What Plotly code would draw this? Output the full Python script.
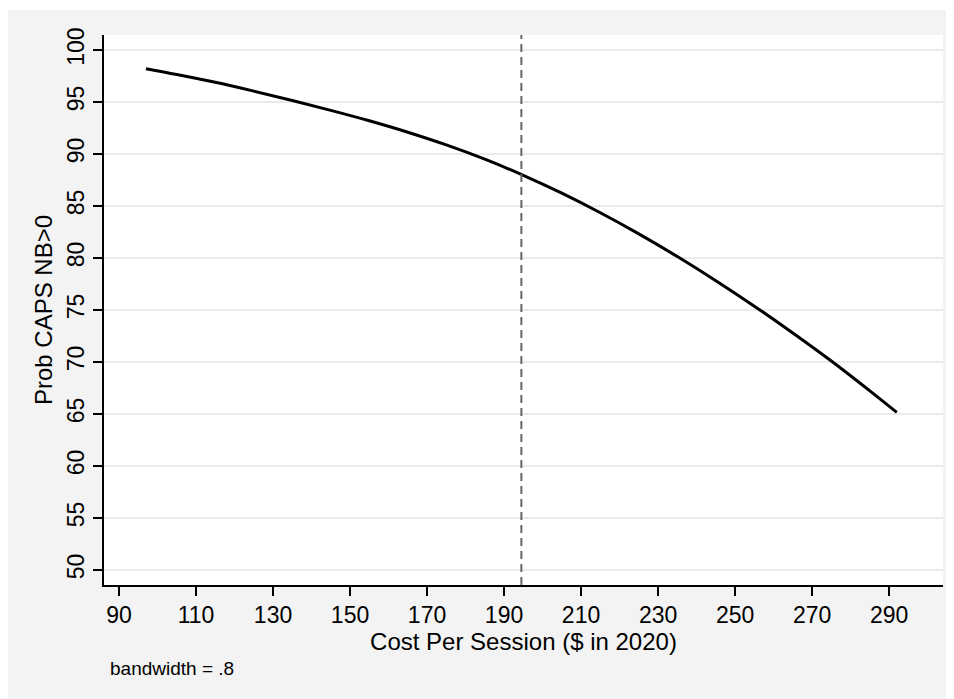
import plotly.graph_objects as go

cost = [97, 105, 115, 125, 135, 145, 155, 165, 175, 185, 195, 205, 215, 225, 235, 245, 255, 265, 275, 285, 292]
prob = [98.2, 97.64, 96.89, 96.04, 95.14, 94.19, 93.19, 92.09, 90.87, 89.5, 87.95, 86.23, 84.35, 82.32, 80.14, 77.82, 75.37, 72.79, 70.09, 67.22, 65.15]
xticks = list(range(90, 291, 20))
yticks = list(range(50, 101, 5))
ref_cost = 194.5

W, H = 954, 699
ml, mr, mt, mb = 96, 19, 27, 122
pw, ph = W - ml - mr, H - mt - mb
FONT = "Liberation Sans, Arial, sans-serif"

fig = go.Figure()
fig.add_trace(go.Scatter(x=cost, y=prob, mode="lines", line=dict(color="black", width=3, shape="spline"),
                         showlegend=False, hoverinfo="skip"))

shapes = [
    dict(type="line", xref="x", yref="paper", x0=ref_cost, x1=ref_cost, y0=0, y1=1,
         line=dict(color="#666666", width=2, dash="8px,5px")),
    dict(type="rect", xref="paper", yref="paper", x0=-ml / pw, x1=1 + mr / pw,
         y0=1 + (mt - 2) / ph, y1=1 + mt / ph, fillcolor="white", line=dict(width=0), layer="below"),
]

fig.update_layout(
    width=W, height=H,
    margin=dict(l=ml, r=mr, t=mt, b=mb),
    paper_bgcolor="#F3F3F3", plot_bgcolor="white",
    font=dict(family=FONT, color="black", size=23),
    shapes=shapes,
    xaxis=dict(range=[86.1, 304.0], tickvals=xticks, ticktext=[str(v) for v in xticks],
               showgrid=False, zeroline=False, showline=True, linecolor="black", linewidth=1.5,
               ticks="outside", ticklen=9, tickwidth=1.5, tickcolor="black",
               tickfont=dict(size=23),
               title=dict(text="Cost Per Session ($ in 2020)", font=dict(size=24), standoff=0)),
    yaxis=dict(range=[48.56, 101.44], tickvals=yticks, ticktext=[str(v) for v in yticks],
               showgrid=True, gridcolor="#EAEAEA", gridwidth=1.5, zeroline=False,
               showline=True, linecolor="black", linewidth=1.5,
               ticks="outside", ticklen=9, tickwidth=1.5, tickcolor="black",
               tickangle=-90, tickfont=dict(size=23),
               title=dict(text="Prob CAPS NB>0", font=dict(size=24), standoff=4)),
    annotations=[dict(text="bandwidth = .8", xref="paper", yref="paper",
                      x=(100 - ml) / pw, y=-(660 - mt - ph) / ph, xanchor="left", yanchor="middle",
                      showarrow=False, font=dict(size=19))],
)

fig.write_html("out.html", config={"displayModeBar": False})
